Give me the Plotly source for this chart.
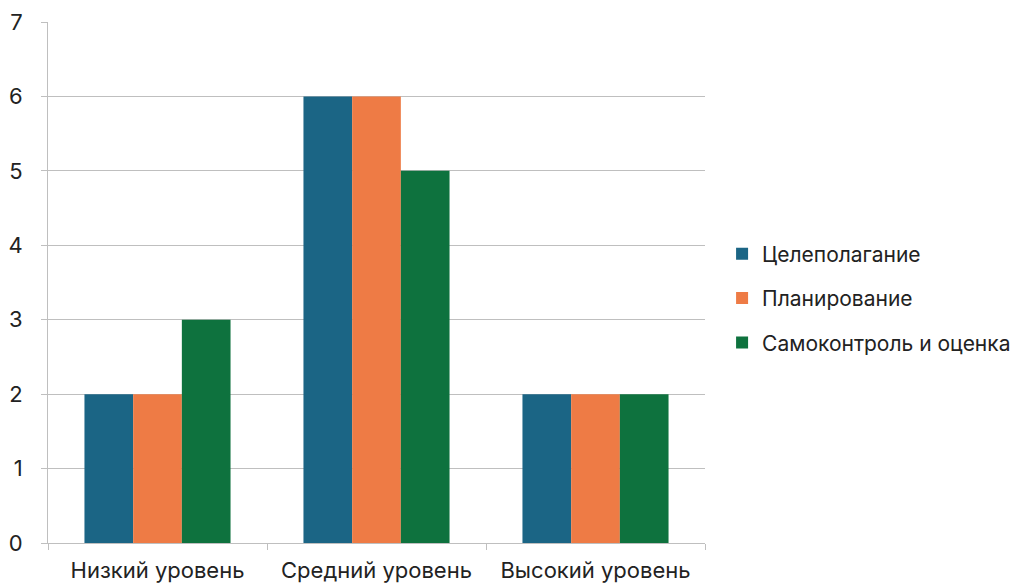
import plotly.graph_objects as go

categories = ["Низкий уровень", "Средний уровень", "Высокий уровень"]
series_names = ["Целеполагание", "Планирование", "Самоконтроль и оценка"]
goal_setting = [2, 6, 2]
planning = [2, 6, 2]
self_control = [3, 5, 2]
y_ticks = [0, 1, 2, 3, 4, 5, 6, 7]

colors = ["#1B6585", "#EE7B45", "#0E723E"]
values = [goal_setting, planning, self_control]

fig = go.Figure()
for i, (name, vals) in enumerate(zip(series_names, values)):
    fig.add_trace(go.Bar(x=categories, y=vals, name=name,
                         marker=dict(color=colors[i], line=dict(width=0)),
                         legendgroup=name))

grid = "#BFBFBF"
fig.update_layout(
    width=1018, height=577,
    margin=dict(l=40, r=321, t=14, b=42, autoexpand=False),
    paper_bgcolor="white", plot_bgcolor="white",
    barmode="group", bargap=0.333, bargroupgap=0,
    font=dict(family="Inter", size=22, color="#222222"),
    legend=dict(x=1.026, y=0.47, xanchor="left", yanchor="middle",
                traceorder="grouped", tracegroupgap=14,
                font=dict(size=21, color="#222222"), itemwidth=30),
    showlegend=True,
)
fig.update_yaxes(range=[0, 7], tickvals=y_ticks, showgrid=True, gridcolor=grid, gridwidth=1,
                 ticks="outside", ticklen=6, tickcolor=grid, showline=True, linecolor=grid,
                 linewidth=1, zeroline=False, ticklabelstandoff=14, automargin=False)
fig.update_xaxes(showline=True, linecolor=grid, linewidth=1, ticks="outside", ticklen=6,
                 tickcolor=grid, tickson="boundaries", ticklabelstandoff=8, automargin=False)
fig.write_html("out.html")
